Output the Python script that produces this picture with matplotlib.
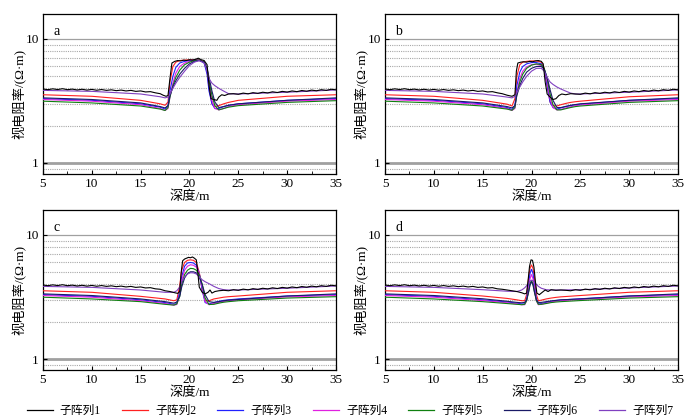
import numpy as np
import matplotlib
matplotlib.use("Agg")
from matplotlib import pyplot as plt
from matplotlib.ticker import MultipleLocator, NullLocator, FixedLocator

plt.rcParams['font.family'] = ['Liberation Serif', 'Noto Sans CJK SC']

labels = ['子阵列1', '子阵列2', '子阵列3', '子阵列4', '子阵列5', '子阵列6', '子阵列7']
colors = ['#000000', '#ff2020', '#2020ff', '#e020e0', '#108010', '#1a1a66', '#8040c0']
panel_names = ['a', 'b', 'c', 'd']

# black curve (sub-array 1) background, shared by all panels
bg_depth = [5.0, 5.5, 6.0, 6.5, 7.0, 7.5, 8.0, 8.5, 9.0, 9.5, 10.0, 10.5, 11.0, 11.5,
            12.0, 12.5, 13.0, 13.5, 14.0, 14.5, 15.0, 15.5, 16.0, 16.5,
            23.5, 24.0, 24.5, 25.0, 25.5, 26.0, 26.5, 27.0, 27.5, 28.0, 28.5, 29.0,
            29.5, 30.0, 30.5, 31.0, 31.5, 32.0, 32.5, 33.0, 33.5, 34.0, 34.5, 35.0]
bg_black = [3.95, 3.90, 3.96, 3.91, 3.97, 3.90, 3.94, 3.88, 3.93, 3.87, 3.92, 3.86, 3.91, 3.85,
            3.89, 3.83, 3.87, 3.81, 3.85, 3.78, 3.81, 3.74, 3.76, 3.68,
            3.58, 3.55, 3.62, 3.58, 3.66, 3.61, 3.69, 3.64, 3.72, 3.67, 3.75, 3.70,
            3.78, 3.73, 3.81, 3.76, 3.84, 3.79, 3.87, 3.82, 3.90, 3.85, 3.93, 3.89]

# black curve near the anomaly, per panel
a_black_depth = [17.0, 17.3, 17.6, 17.8, 18.0, 18.2, 18.5, 18.8, 19.1, 19.4, 19.7, 20.0, 20.3,
                 20.6, 20.9, 21.2, 21.5, 21.8, 22.0, 22.2, 22.5, 22.8, 23.0, 23.3, 23.6, 24.0]
a_black = [3.62, 3.52, 3.45, 3.5, 4.8, 6.4, 6.6, 6.7, 6.65, 6.75, 6.7, 6.8, 6.75,
           6.85, 7.0, 6.8, 6.7, 6.2, 4.2, 3.3, 3.25, 3.2, 3.4, 3.55, 3.5, 3.6]
b_black_depth = [17.0, 17.5, 18.0, 18.3, 18.45, 18.6, 18.9, 19.2, 19.5, 19.8, 20.1, 20.4, 20.7,
                 21.0, 21.2, 21.4, 21.6, 21.9, 22.2, 22.5, 22.8, 23.1, 23.5, 24.0, 24.5]
b_black = [3.62, 3.52, 3.45, 3.55, 5.5, 6.4, 6.5, 6.55, 6.5, 6.6, 6.55, 6.65, 6.7,
           6.6, 6.3, 4.5, 3.6, 3.4, 3.25, 3.3, 3.5, 3.6, 3.55, 3.62, 3.6]
c_black_depth = [17.0, 17.5, 18.0, 18.5, 18.8, 19.0, 19.15, 19.3, 19.5, 19.7, 19.9, 20.1, 20.3,
                 20.5, 20.7, 20.85, 21.0, 21.3, 21.6, 21.9, 22.1, 22.3, 22.6, 23.0]
c_black = [3.65, 3.55, 3.5, 3.42, 3.38, 3.5, 5.0, 6.2, 6.4, 6.5, 6.6, 6.55, 6.65,
           6.5, 6.3, 5.0, 3.8, 3.45, 3.35, 3.45, 3.6, 3.4, 3.5, 3.55]
d_black_depth = [17.0, 17.5, 18.0, 18.5, 19.0, 19.3, 19.5, 19.65, 19.8, 19.95, 20.1, 20.25, 20.4,
                 20.55, 20.8, 21.1, 21.4, 21.7, 22.0, 22.5, 23.0]
d_black = [3.65, 3.6, 3.55, 3.5, 3.42, 3.35, 3.4, 4.3, 5.6, 6.3, 6.25, 5.5, 4.2,
           3.4, 3.3, 3.45, 3.6, 3.5, 3.62, 3.58, 3.6]

# sub-arrays 2..7, panel a
a_depth = [5, 10, 15, 17, 17.5, 17.8, 18.0, 18.3, 18.6, 19.0, 19.5, 20.0, 20.5, 21.0, 21.5,
           21.8, 22.0, 22.3, 22.6, 23.0, 23.5, 24.0, 25, 30, 35]
a_red = [3.55, 3.45, 3.2, 3.0, 2.92, 3.1, 4.5, 6.0, 6.5, 6.7, 6.75, 6.8, 6.8, 6.8, 6.5,
         5.5, 4.0, 3.0, 2.85, 2.9, 3.0, 3.08, 3.2, 3.45, 3.55]
a_blue = [3.3, 3.2, 3.0, 2.82, 2.72, 2.9, 3.8, 5.0, 5.9, 6.4, 6.6, 6.7, 6.75, 6.75, 6.4,
          5.2, 3.8, 3.0, 2.75, 2.75, 2.85, 2.92, 3.0, 3.2, 3.3]
a_magenta = [3.25, 3.15, 2.95, 2.75, 2.65, 2.75, 3.4, 4.4, 5.3, 6.0, 6.4, 6.6, 6.7, 6.7, 6.5,
             5.6, 4.4, 3.2, 2.75, 2.68, 2.75, 2.85, 2.95, 3.15, 3.25]
a_green = [3.15, 3.05, 2.88, 2.72, 2.65, 2.8, 3.4, 4.2, 4.9, 5.6, 6.2, 6.5, 6.7, 6.75, 6.5,
           5.7, 4.6, 3.5, 2.9, 2.68, 2.75, 2.82, 2.9, 3.08, 3.18]
a_navy = [3.35, 3.25, 3.05, 2.85, 2.78, 2.9, 3.5, 4.1, 4.6, 5.2, 5.8, 6.3, 6.6, 6.7, 6.5,
          5.8, 4.9, 3.8, 3.1, 2.8, 2.85, 2.92, 3.0, 3.2, 3.35]
a_purple = [3.85, 3.78, 3.6, 3.42, 3.35, 3.4, 3.6, 4.0, 4.4, 4.9, 5.5, 6.1, 6.5, 6.7, 6.4,
            5.6, 4.8, 4.4, 4.2, 4.0, 3.8, 3.62, 3.6, 3.72, 3.88]

# panel b
b_depth = [5, 10, 15, 17.5, 18.0, 18.3, 18.5, 18.8, 19.1, 19.5, 20.0, 20.5, 21.0, 21.3, 21.6,
           21.9, 22.2, 22.6, 23.0, 23.5, 24.0, 24.5, 25, 30, 35]
b_red = [3.55, 3.45, 3.2, 2.98, 2.88, 3.3, 5.0, 6.2, 6.5, 6.6, 6.65, 6.65, 6.5, 5.8, 4.2,
         3.1, 2.9, 2.88, 2.95, 3.02, 3.08, 3.12, 3.15, 3.42, 3.55]
b_blue = [3.3, 3.2, 3.0, 2.8, 2.7, 2.9, 4.2, 5.4, 6.0, 6.3, 6.45, 6.45, 6.3, 5.7, 4.2,
          3.1, 2.8, 2.72, 2.78, 2.85, 2.9, 2.95, 2.98, 3.2, 3.3]
b_magenta = [3.25, 3.15, 2.95, 2.75, 2.65, 2.75, 3.7, 4.8, 5.5, 5.95, 6.2, 6.25, 6.1, 5.7, 4.5,
             3.3, 2.8, 2.68, 2.7, 2.78, 2.84, 2.9, 2.93, 3.15, 3.25]
b_green = [3.15, 3.05, 2.88, 2.72, 2.66, 2.8, 3.6, 4.5, 5.2, 5.8, 6.15, 6.3, 6.2, 5.8, 4.8,
           3.6, 2.95, 2.68, 2.68, 2.74, 2.8, 2.85, 2.88, 3.08, 3.18]
b_navy = [3.35, 3.25, 3.05, 2.85, 2.78, 2.9, 3.5, 4.2, 4.8, 5.4, 5.8, 6.0, 6.0, 5.7, 4.9,
          3.9, 3.2, 2.8, 2.8, 2.86, 2.92, 2.96, 3.0, 3.2, 3.35]
b_purple = [3.85, 3.78, 3.6, 3.4, 3.35, 3.45, 3.7, 4.1, 4.5, 5.0, 5.5, 5.8, 5.8, 5.5, 4.9,
            4.5, 4.3, 4.1, 3.95, 3.8, 3.66, 3.6, 3.6, 3.72, 3.88]

# panel c
c_depth = [5, 10, 15, 17.5, 18.4, 18.7, 19.0, 19.2, 19.5, 19.8, 20.1, 20.4, 20.7, 21.0, 21.3,
           21.6, 22.0, 22.5, 23.0, 23.5, 24.0, 25, 30, 35]
c_red = [3.55, 3.45, 3.2, 3.05, 2.95, 3.0, 3.9, 5.2, 6.0, 6.25, 6.3, 6.25, 6.0, 5.0, 3.6,
         2.95, 2.95, 3.05, 3.1, 3.15, 3.18, 3.22, 3.45, 3.55]
c_blue = [3.3, 3.2, 3.0, 2.85, 2.76, 2.8, 3.5, 4.6, 5.6, 5.95, 6.0, 5.95, 5.7, 4.9, 3.6,
          2.85, 2.78, 2.85, 2.92, 2.97, 3.0, 3.05, 3.22, 3.3]
c_magenta = [3.25, 3.15, 2.95, 2.8, 2.72, 2.75, 3.3, 4.3, 5.2, 5.6, 5.75, 5.7, 5.5, 4.9, 3.8,
             2.9, 2.74, 2.8, 2.86, 2.91, 2.95, 3.0, 3.17, 3.25]
c_green = [3.15, 3.05, 2.9, 2.76, 2.72, 2.78, 3.2, 4.0, 4.8, 5.2, 5.38, 5.35, 5.2, 4.8, 4.0,
           3.1, 2.75, 2.76, 2.82, 2.87, 2.9, 2.95, 3.1, 3.18]
c_navy = [3.35, 3.25, 3.05, 2.9, 2.82, 2.88, 3.2, 3.8, 4.5, 4.9, 5.05, 5.05, 4.95, 4.6, 4.0,
          3.3, 2.9, 2.86, 2.9, 2.95, 2.98, 3.02, 3.22, 3.35]
c_purple = [3.85, 3.78, 3.6, 3.45, 3.45, 3.55, 3.8, 4.2, 4.6, 4.85, 4.96, 4.95, 4.85, 4.6, 4.35,
            4.2, 4.05, 3.85, 3.7, 3.62, 3.6, 3.6, 3.72, 3.88]

# panel d
d_depth = [5, 10, 15, 17.5, 18.5, 19.0, 19.3, 19.5, 19.7, 19.85, 20.0, 20.15, 20.3, 20.5, 20.7,
           21.0, 21.5, 22.0, 22.5, 23.0, 25, 30, 35]
d_red = [3.55, 3.45, 3.22, 3.08, 3.0, 2.95, 2.95, 3.3, 4.5, 5.4, 5.73, 5.4, 4.5, 3.3, 2.95,
         2.98, 3.05, 3.1, 3.14, 3.17, 3.25, 3.45, 3.55]
d_blue = [3.3, 3.2, 3.0, 2.88, 2.82, 2.78, 2.78, 3.05, 4.0, 4.9, 5.29, 4.9, 4.0, 3.05, 2.78,
          2.8, 2.86, 2.92, 2.96, 2.99, 3.06, 3.22, 3.3]
d_magenta = [3.25, 3.15, 2.96, 2.84, 2.78, 2.74, 2.74, 2.95, 3.7, 4.45, 4.8, 4.45, 3.7, 2.95, 2.74,
             2.76, 2.82, 2.88, 2.92, 2.95, 3.02, 3.17, 3.25]
d_green = [3.15, 3.05, 2.9, 2.8, 2.76, 2.74, 2.76, 2.95, 3.5, 4.05, 4.3, 4.05, 3.5, 2.95, 2.76,
           2.76, 2.8, 2.85, 2.88, 2.9, 2.96, 3.1, 3.18]
d_navy = [3.35, 3.25, 3.06, 2.92, 2.86, 2.84, 2.86, 3.0, 3.45, 3.95, 4.2, 3.95, 3.45, 3.0, 2.86,
          2.86, 2.9, 2.94, 2.97, 3.0, 3.05, 3.22, 3.35]
d_purple = [3.85, 3.78, 3.62, 3.52, 3.5, 3.6, 3.75, 3.9, 4.1, 4.25, 4.32, 4.28, 4.15, 4.0, 3.85,
            3.72, 3.62, 3.6, 3.6, 3.6, 3.62, 3.74, 3.88]

panels = [
    (a_black_depth, a_black, a_depth, [a_red, a_blue, a_magenta, a_green, a_navy, a_purple]),
    (b_black_depth, b_black, b_depth, [b_red, b_blue, b_magenta, b_green, b_navy, b_purple]),
    (c_black_depth, c_black, c_depth, [c_red, c_blue, c_magenta, c_green, c_navy, c_purple]),
    (d_black_depth, d_black, d_depth, [d_red, d_blue, d_magenta, d_green, d_navy, d_purple]),
]

fig = plt.figure(figsize=(7, 4.2), dpi=100)
w, h = 0.4186, 0.381
positions = [(0.0614, 0.5857), (0.55, 0.5857), (0.0614, 0.119), (0.55, 0.119)]

for i, (pos, (bd, bv, dep, others)) in enumerate(zip(positions, panels)):
    ax = fig.add_axes([pos[0], pos[1], w, h])
    ax.set_yscale('log')
    ax.set_xlim(5, 35)
    ax.set_ylim(0.815, 15.9)

    # grid lines
    for v in [0.9, 2, 3, 4, 5, 6, 7, 8, 9]:
        ax.axhline(v, color='#a8a8a8', lw=0.8, ls=(0, (1, 1)), zorder=1)
    ax.axhline(10, color='#a0a0a0', lw=0.9, zorder=1)
    ax.axhline(1, color='#a0a0a0', lw=2.0, zorder=1)

    # black curve: background + anomaly part
    bd_all = [x for x in bg_depth if x < bd[0]] + list(bd) + [x for x in bg_depth if x > bd[-1]]
    bv_all = [v for x, v in zip(bg_depth, bg_black) if x < bd[0]] + list(bv) + \
             [v for x, v in zip(bg_depth, bg_black) if x > bd[-1]]

    for k in range(5, -1, -1):
        ax.plot(dep, others[k], color=colors[k + 1], lw=0.8, zorder=3 + k)
    ax.plot(bd_all, bv_all, color=colors[0], lw=0.8, zorder=10)

    ax.xaxis.set_major_locator(MultipleLocator(5))
    ax.xaxis.set_minor_locator(MultipleLocator(2.5))
    ax.yaxis.set_major_locator(FixedLocator([1, 10]))
    ax.yaxis.set_minor_locator(NullLocator())
    ax.set_yticklabels(['1', '10'])
    ax.tick_params(which='both', direction='in', labelsize=9.5, pad=3)
    ax.tick_params(which='major', length=3)
    ax.tick_params(which='minor', length=2)
    for s in ax.spines.values():
        s.set_linewidth(0.9)

    ax.set_xlabel('深度/m', fontsize=9.5, labelpad=0)
    ax.set_ylabel('视电阻率/(Ω·m)', fontsize=9.5, labelpad=-1)
    ax.text(0.035, 0.93, panel_names[i], transform=ax.transAxes, fontsize=10, va='top')

handles = [plt.Line2D([], [], color=c, lw=0.9) for c in colors]
fig.legend(handles, labels, loc='center', bbox_to_anchor=(0.5, 0.022), ncol=7,
           frameon=False, fontsize=8.5, handlelength=2.2, columnspacing=1.8, handletextpad=0.6)

fig.savefig('out.png', dpi=100)
